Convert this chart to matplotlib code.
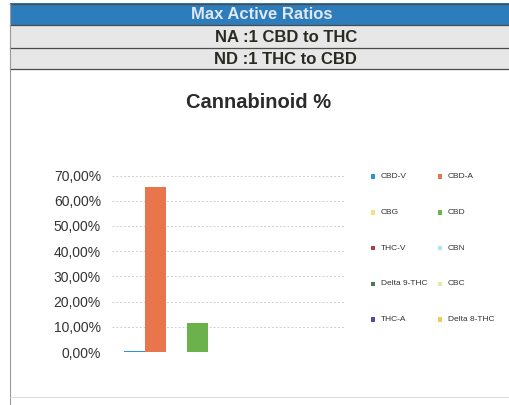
import matplotlib
matplotlib.use("Agg")
import matplotlib.pyplot as plt
from matplotlib.patches import Rectangle
from matplotlib.lines import Line2D

series = ["CBD-V", "CBD-A", "CBG", "CBD", "THC-V", "CBN",
          "Delta 9-THC", "CBC", "THC-A", "Delta 8-THC"]
values = [0.3, 65.6, 0.0, 11.6, 0.0, 0.0, 0.0, 0.0, 0.0, 0.0]
colors = ["#2e93d1", "#e8754b", "#f2df8c", "#6cb24c", "#a8404e", "#aee3ef",
          "#4c7a4c", "#e0eba4", "#4e4f9e", "#f2c95a"]
yticks = [0, 10, 20, 30, 40, 50, 60, 70]
ytick_labels = ["0,00%", "10,00%", "20,00%", "30,00%", "40,00%",
                "50,00%", "60,00%", "70,00%"]
header = "Max Active Ratios"
rows = ["NA :1 CBD to THC", "ND :1 THC to CBD"]
title = "Cannabinoid %"

W, H = 509, 405
fig = plt.figure(figsize=(W / 100, H / 100), dpi=100)
fig.patch.set_facecolor("white")

def fx(x):
    return x / W

def fy(y):
    return 1 - y / H

# header table
fig.patches.append(Rectangle((fx(10), fy(25)), fx(499), 21.5 / H, transform=fig.transFigure,
                             facecolor="#2d7dbd", edgecolor="none"))
row_bounds = [(25, 48), (48, 69)]
row_centers = [286, 285]
for (top, bot), cx, txt in zip(row_bounds, row_centers, rows):
    fig.patches.append(Rectangle((fx(10), fy(bot)), fx(499), (bot - top) / H,
                                 transform=fig.transFigure, facecolor="#e6e7e6", edgecolor="none"))
    fig.text(fx(cx), fy((top + bot) / 2 + 0.5), txt, ha="center", va="center", fontsize=12,
             fontweight="bold", color="#2a2a22", family="Liberation Sans")
fig.text(fx(262), fy(14.5), header, ha="center", va="center", fontsize=12,
         fontweight="bold", color="#dfe8f2", family="Liberation Sans")
for y in [3.5, 25, 48, 69]:
    fig.add_artist(Line2D([fx(10), fx(509)], [fy(y), fy(y)], transform=fig.transFigure,
                          color="#4a4a48", lw=0.9))
fig.add_artist(Line2D([fx(10), fx(10)], [fy(3.5), fy(405)], transform=fig.transFigure,
                      color="#9a9a9a", lw=0.8))
fig.add_artist(Line2D([fx(10), fx(509)], [fy(397), fy(397)], transform=fig.transFigure,
                      color="#d8d8d8", lw=0.6))

fig.text(fx(259), fy(103), title, ha="center", va="center", fontsize=14.5,
         fontweight="bold", color="#2b2b2b", family="Liberation Sans")

# chart
ax = fig.add_axes([fx(112), fy(352), (346 - 112) / W, (352 - 175.5) / H])
x = list(range(len(series)))
bars = ax.bar(x, values, width=1.0, color=colors, label=series)
ax.set_xlim(-1.05, len(series) - 1 + 1.05)
ax.set_ylim(0, 70)
ax.set_yticks(yticks)
ax.set_yticklabels(ytick_labels, fontsize=10, color="#333333", family="Liberation Sans")
ax.set_xticks([])
ax.tick_params(axis="y", length=0, pad=8)
for s in ax.spines.values():
    s.set_visible(False)
ax.set_axisbelow(True)
ax.grid(axis="y", color="#cfcfcf", lw=0.7, ls=(0, (2, 2)))

# legend: manual grid (row-wise order)
for i, (lab, col) in enumerate(zip(series, colors)):
    r, c = divmod(i, 2)
    xm = 373 + c * 67
    ym = 176.7 + r * 35.7
    fig.patches.append(Rectangle((fx(xm - 2.2), fy(ym + 2.2)), 4.4 / W, 4.4 / H,
                                 transform=fig.transFigure, facecolor=col, edgecolor="none"))
    fig.text(fx(xm + 8), fy(ym), lab, ha="left", va="center", fontsize=6,
             color="#333333", family="Liberation Sans")

fig.savefig("out.png", dpi=100, facecolor="white")
